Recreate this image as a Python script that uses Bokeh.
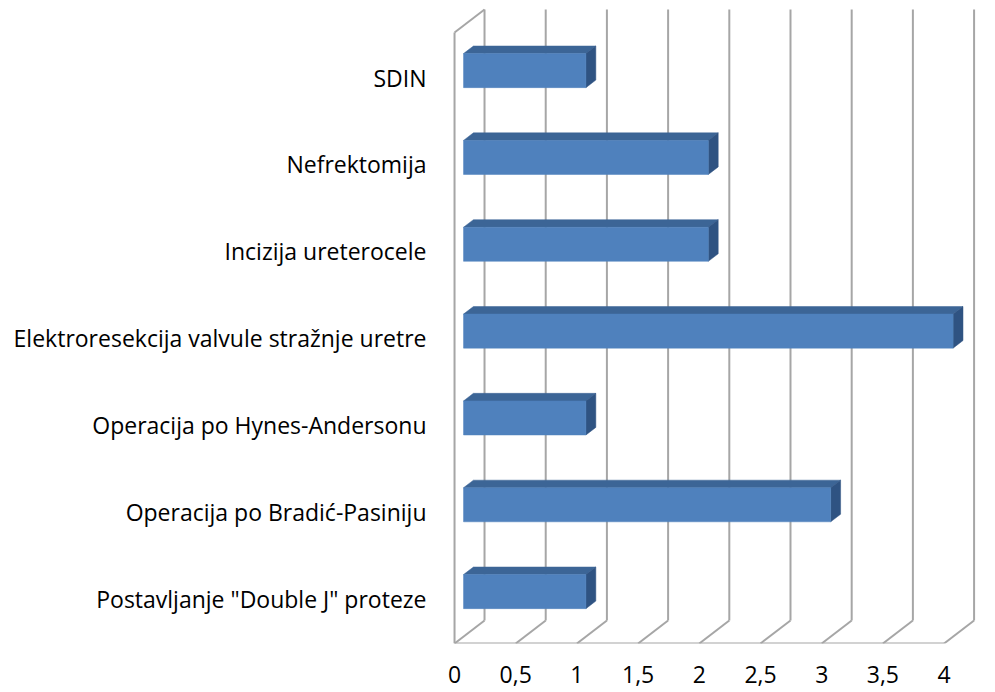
from bokeh.plotting import figure
from bokeh.models import Range1d, FixedTicker
from bokeh.embed import file_html
from bokeh.resources import INLINE

# ---- data ----
categories = [
    'Postavljanje "Double J" proteze',
    "Operacija po Bradić-Pasiniju",
    "Operacija po Hynes-Andersonu",
    "Elektroresekcija valvule stražnje uretre",
    "Incizija ureterocele",
    "Nefrektomija",
    "SDIN",
]
values = [1, 3, 1, 4, 2, 2, 1]
x_ticks = [0, 0.5, 1, 1.5, 2, 2.5, 3, 3.5, 4]
x_tick_labels = ["0", "0,5", "1", "1,5", "2", "2,5", "3", "3,5", "4"]

# ---- geometry / style (data units) ----
DX, DY = 0.245, 0.265            # depth vector of the 3-D box
FB, FT = -0.518, 6.518           # front plane bottom / top
BAR_F, BAR_B = 0.30, 0.63        # bar front/back as fraction of depth
HALF_H = 0.196
GRID = "#A6A6A6"
FRONT = "#4F81BD"
TOP = "#3C6596"
SIDE = "#2F5382"
FONT = "Open Sans"

p = figure(width=995, height=692, output_backend="svg", toolbar_location=None,
           x_range=Range1d(-0.033, 4.42), y_range=Range1d(FB, 6.887),
           min_border_left=450, min_border_bottom=49, min_border_top=0,
           min_border_right=0)
p.outline_line_color = None
p.xgrid.visible = False
p.ygrid.visible = False

# gridlines
xmax = x_ticks[-1]
xs, ys = [], []
for t in x_ticks:
    xs.append([t + DX, t + DX]); ys.append([FB + DY, FT + DY])   # back wall
    xs.append([t, t + DX]); ys.append([FB, FB + DY])             # floor
xs.append([0, xmax]); ys.append([FB, FB])                        # front floor edge
xs.append([0, 0]); ys.append([FB, FT])                           # left wall front
xs.append([0, DX]); ys.append([FT, FT + DY])                     # left wall top
p.multi_line(xs, ys, line_color=GRID, line_width=2)

# bars
fx, fy = DX * BAR_F, DY * BAR_F
bx, by = DX * BAR_B, DY * BAR_B
ddx, ddy = bx - fx, by - fy
yc = list(range(len(categories)))
left = [fx for _ in values]
right = [v + fx for v in values]
bottom = [y - HALF_H + fy for y in yc]
top = [y + HALF_H + fy for y in yc]

top_x = [[l, r, r + ddx, l + ddx] for l, r in zip(left, right)]
top_y = [[t, t, t + ddy, t + ddy] for t in top]
side_x = [[r, r + ddx, r + ddx, r] for r in right]
side_y = [[b, b + ddy, t + ddy, t] for b, t in zip(bottom, top)]

p.patches(top_x, top_y, fill_color=TOP, line_color=TOP, line_width=0.5)
p.patches(side_x, side_y, fill_color=SIDE, line_color=SIDE, line_width=0.5)
p.quad(left=left, right=right, bottom=bottom, top=top,
       fill_color=FRONT, line_color=FRONT, line_width=0.5)

# axes
xa = p.xaxis[0]
xa.ticker = FixedTicker(ticks=x_ticks)
xa.major_label_overrides = {t: l for t, l in zip(x_ticks, x_tick_labels)}
xa.axis_line_color = None
xa.major_tick_line_color = None
xa.minor_tick_line_color = None
xa.major_label_standoff = 16
xa.major_label_text_font = FONT
xa.major_label_text_font_size = "23px"
xa.major_label_text_color = "black"

ya = p.yaxis[0]
ya.ticker = FixedTicker(ticks=yc)
ya.major_label_overrides = {i: c for i, c in enumerate(categories)}
ya.axis_line_color = None
ya.major_tick_line_color = None
ya.minor_tick_line_color = None
ya.major_label_standoff = 18
ya.major_label_text_font = FONT
ya.major_label_text_font_size = "23px"
ya.major_label_text_color = "black"

open("out.html", "w").write(file_html(p, INLINE))
